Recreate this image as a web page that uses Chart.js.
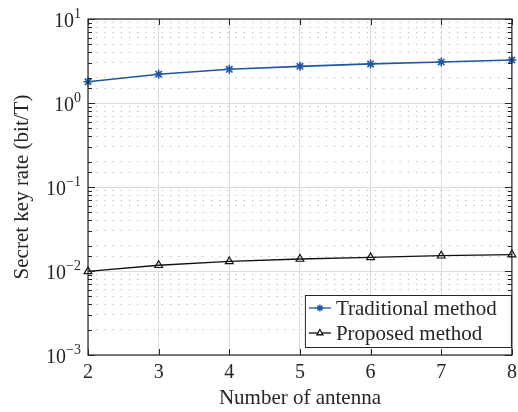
<!DOCTYPE html>
<html>
<head>
<meta charset="utf-8">
<script src="https://cdn.jsdelivr.net/npm/chart.js@4.4.1/dist/chart.umd.min.js"></script>
<style>
  html, body { margin: 0; padding: 0; background: #fff; }
  #wrap { width: 518px; height: 412px; }
</style>
</head>
<body>
<div id="wrap"><canvas id="keyRate" width="518" height="412"></canvas></div>
<script>
const antennas = [2, 3, 4, 5, 6, 7, 8];
const traditional = [1.79, 2.20, 2.52, 2.73, 2.92, 3.08, 3.25];
const proposed = [0.0099, 0.0117, 0.0130, 0.0139, 0.0145, 0.0152, 0.0157];
const seriesNames = ["Traditional method", "Proposed method"];
const yDecades = [-3, -2, -1, 0, 1];

const FONT = "'Liberation Serif', 'Times New Roman', serif";
const AXIS = "#262626";
const BLUE = "#1f56a5";

function isDecade(v) {
  const l = Math.log10(v);
  return Math.abs(l - Math.round(l)) < 1e-6;
}

// frame, inward tick marks, y labels with exponent, and legend box
const decor = {
  id: "decor",
  afterDraw(chart) {
    const ctx = chart.ctx;
    const a = chart.chartArea;
    const xs = chart.scales.x;
    const ys = chart.scales.y;
    ctx.save();
    ctx.strokeStyle = AXIS;
    ctx.lineWidth = 1.2;
    ctx.strokeRect(a.left, a.top, a.right - a.left, a.bottom - a.top);

    ctx.lineWidth = 1;
    ctx.beginPath();
    xs.ticks.forEach(t => {
      const px = Math.round(xs.getPixelForValue(t.value)) + 0.5;
      ctx.moveTo(px, a.bottom); ctx.lineTo(px, a.bottom - 6);
      ctx.moveTo(px, a.top); ctx.lineTo(px, a.top + 6);
    });
    ys.ticks.forEach(t => {
      const py = Math.round(ys.getPixelForValue(t.value)) + 0.5;
      const len = isDecade(t.value) ? 7 : 4;
      ctx.moveTo(a.left, py); ctx.lineTo(a.left + len, py);
      ctx.moveTo(a.right, py); ctx.lineTo(a.right - len, py);
    });
    ctx.stroke();

    // y labels 10^n
    ctx.fillStyle = AXIS;
    ctx.textBaseline = "alphabetic";
    yDecades.forEach(e => {
      const py = ys.getPixelForValue(Math.pow(10, e));
      const exp = e < 0 ? "\u2212" + Math.abs(e) : String(e);
      ctx.font = "14px " + FONT;
      const ew = ctx.measureText(exp).width;
      const right = a.left - 7;
      ctx.textAlign = "left";
      ctx.fillText(exp, right - ew, py - 1);
      ctx.font = "20px " + FONT;
      ctx.textAlign = "right";
      ctx.fillText("10", right - ew, py + 8);
    });

    // legend
    const bx = a.right - 207, by = a.bottom - 60, bw = 206, bh = 52;
    ctx.fillStyle = "#fff";
    ctx.fillRect(bx, by, bw, bh);
    ctx.strokeStyle = AXIS;
    ctx.lineWidth = 1;
    ctx.strokeRect(bx + 0.5, by + 0.5, bw, bh);
    chart.data.datasets.forEach((ds, i) => {
      const ry = by + 13 + i * 25;
      ctx.strokeStyle = ds.borderColor;
      ctx.lineWidth = 1.3;
      ctx.beginPath();
      ctx.moveTo(bx + 4, ry); ctx.lineTo(bx + 26, ry);
      ctx.stroke();
      ctx.fillStyle = "#fff";
      Chart.helpers.drawPoint(ctx, {
        pointStyle: ds.pointStyle, radius: 3.5, rotation: 0,
        borderWidth: 1
      }, bx + 15, ry);
      ctx.fillStyle = AXIS;
      ctx.font = "21px " + FONT;
      ctx.textAlign = "left";
      ctx.textBaseline = "middle";
      ctx.fillText(ds.label, bx + 31, ry + 1);
    });
    ctx.restore();
  }
};

new Chart(document.getElementById("keyRate"), {
  type: "line",
  data: {
    datasets: [{
      label: seriesNames[0],
      data: antennas.map((n, i) => ({ x: n, y: traditional[i] })),
      borderColor: BLUE,
      backgroundColor: BLUE,
      borderWidth: 1.6,
      pointStyle: "star",
      pointRadius: 4.5,
      pointBorderWidth: 1.6,
      clip: false
    }, {
      label: seriesNames[1],
      data: antennas.map((n, i) => ({ x: n, y: proposed[i] })),
      borderColor: "#111",
      backgroundColor: "rgba(0,0,0,0)",
      borderWidth: 1.3,
      pointStyle: "triangle",
      pointRadius: 4.5,
      pointBorderWidth: 1.2,
      clip: false
    }]
  },
  options: {
    responsive: false,
    animation: false,
    layout: { padding: { left: 0, right: 0, top: 19, bottom: 0 } },
    plugins: {
      legend: { display: false },
      tooltip: { enabled: false }
    },
    scales: {
      x: {
        type: "linear",
        min: 2,
        max: 8,
        afterFit(scale) { scale.height = 57; scale.paddingRight = 5; },
        ticks: {
          stepSize: 1,
          padding: 6,
          color: AXIS,
          font: { family: FONT, size: 20 }
        },
        grid: { color: "#dcdcdc", lineWidth: 1, drawTicks: false },
        border: { display: false },
        title: {
          display: true,
          text: "Number of antenna",
          color: AXIS,
          font: { family: FONT, size: 21 },
          padding: { top: 0, bottom: 1 }
        }
      },
      y: {
        type: "logarithmic",
        min: 0.001,
        max: 10,
        afterFit(scale) { scale.width = 88; },
        ticks: {
          autoSkip: false,
          callback: () => ""
        },
        grid: {
          drawTicks: false,
          lineWidth: 1,
          color: c => (c.tick && isDecade(c.tick.value)) ? "#dcdcdc" : "#b8b8b8"
        },
        border: {
          display: false,
          dash: c => (c.tick && isDecade(c.tick.value)) ? [] : [1.2, 7]
        },
        title: {
          display: true,
          text: "Secret key rate (bit/T)",
          color: AXIS,
          font: { family: FONT, size: 21 },
          padding: { top: 10, bottom: 0 }
        }
      }
    }
  },
  plugins: [decor]
});
</script>
</body>
</html>
